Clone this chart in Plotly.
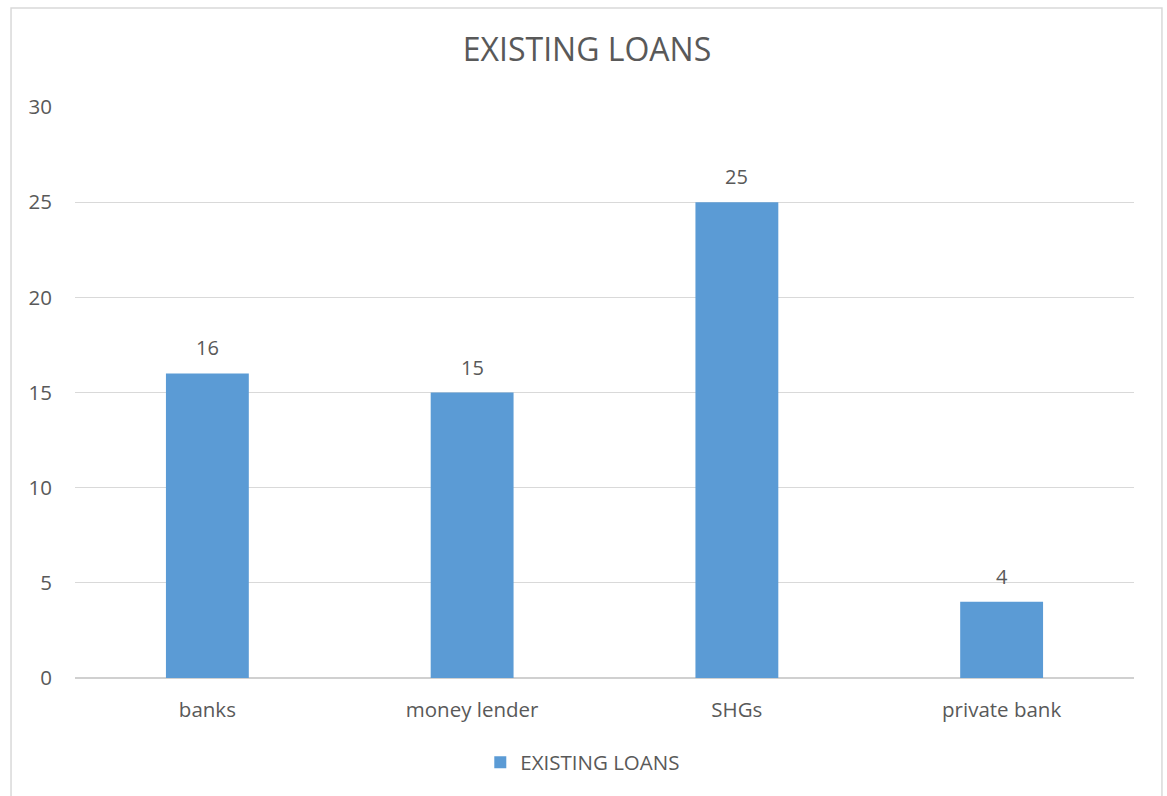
import plotly.graph_objects as go

categories = ["banks", "money lender", "SHGs", "private bank"]
loans = [16, 15, 25, 4]
series_name = "EXISTING LOANS"
y_ticks = [0, 5, 10, 15, 20, 25, 30]

BAR = "#5b9bd5"
TEXT = "#595959"
FONT = "Open Sans"

fig = go.Figure()
fig.add_trace(go.Bar(
    x=categories, y=loans, name=series_name,
    marker=dict(color=BAR, line=dict(width=0)),
))

# value labels above each bar
for c, v in zip(categories, loans):
    fig.add_annotation(x=c, y=v, text=str(v), showarrow=False,
                       yanchor="bottom", yshift=10,
                       font=dict(family=FONT, size=20, color=TEXT))

# outer chart frame
fig.add_shape(type="rect", xref="paper", yref="paper",
              x0=-0.0604, x1=1.0264, y0=-0.25, y1=1.1734,
              line=dict(color="#d9d9d9", width=1.5), fillcolor="rgba(0,0,0,0)",
              layer="below")

fig.update_layout(
    width=1167, height=796,
    margin=dict(l=75, r=33, t=107, b=118),
    paper_bgcolor="white", plot_bgcolor="white",
    bargap=0.687,
    title=dict(text=series_name, x=0.503, xanchor="center", y=0.937, yanchor="middle",
               font=dict(family=FONT, size=32, color=TEXT)),
    font=dict(family=FONT, color=TEXT),
    showlegend=True,
    legend=dict(orientation="h", x=0.4795, xanchor="center", y=-0.148, yanchor="middle",
                font=dict(family=FONT, size=20.5, color=TEXT),
                itemwidth=30),
    xaxis=dict(showline=False, ticks="", tickfont=dict(family=FONT, size=20.5, color=TEXT),
               showgrid=False, ticklabelstandoff=17),
    yaxis=dict(range=[0, 30], tickvals=y_ticks, showline=False, ticks="",
               gridcolor="#d9d9d9", gridwidth=1.4, zeroline=True, zerolinecolor="#d0d0d0",
               zerolinewidth=1.8, ticklabelstandoff=22,
               tickfont=dict(family=FONT, size=20.5, color=TEXT)),
)

fig.write_html("out.html")
